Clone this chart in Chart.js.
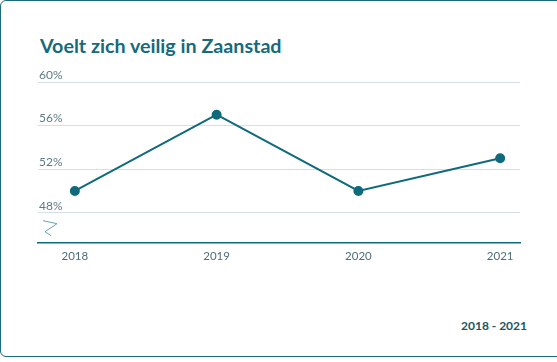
<!DOCTYPE html>
<html>
<head>
<meta charset="utf-8">
<script src="https://cdn.jsdelivr.net/npm/chart.js@4"></script>
<style>
  html, body { margin: 0; padding: 0; background: #fff; overflow: hidden; }
  .card {
    position: absolute; left: 0; top: 0; width: 580px; height: 355px;
    border: 1.5px solid #1b6b7d; border-radius: 6px; box-sizing: content-box;
  }
  h2 {
    position: absolute; left: 40px; top: 34px; margin: 0;
    font: bold 19.7px Lato, sans-serif; color: #17697c;
  }
  .period {
    position: absolute; left: 461px; top: 318px;
    font: bold 12px Lato, sans-serif; color: #1b5566;
  }
  canvas { position: absolute; left: 0; top: 0; }
</style>
</head>
<body>
<div class="card"></div>
<h2>Voelt zich veilig in Zaanstad</h2>
<div class="period">2018 - 2021</div>
<canvas id="veilig-chart" width="557" height="362"></canvas>
<script>
const years = [2018, 2019, 2020, 2021];
const veilig = [50, 57, 50, 53];
const yTicks = [48, 52, 56, 60];

const teal = '#0f6a7c';

// klein zigzag-teken voor de onderbroken y-as
const axisBreak = {
    id: 'axisBreak',
    afterDraw: function (chart) {
        let ctx = chart.ctx;
        let x = chart.chartArea.left;
        let y = chart.scales.y.getPixelForValue(48);
        ctx.save();
        ctx.strokeStyle = '#6aa3b0';
        ctx.lineWidth = 1;
        ctx.beginPath();
        ctx.moveTo(x + 5, y + 8);
        ctx.lineTo(x + 19, y + 11);
        ctx.lineTo(x + 7, y + 19);
        ctx.lineTo(x + 13, y + 23);
        ctx.stroke();
        ctx.restore();
    }
};

let veiligChartDraw = function () {
    let ctx = document.getElementById('veilig-chart').getContext('2d');

    window.veiligChart = new Chart(ctx, {
        type: 'line',
        data: {
            datasets: [{
                data: years.map((year, i) => ({ x: year, y: veilig[i] })),
                borderColor: teal,
                backgroundColor: teal,
                borderWidth: 2,
                pointRadius: 4,
                pointHoverRadius: 4,
                tension: 0
            }]
        },
        options: {
            responsive: false,
            animation: false,
            layout: {
                padding: { left: 36, right: 37, top: 82, bottom: 101 }
            },
            plugins: {
                legend: { display: false },
                tooltip: { enabled: false }
            },
            scales: {
                x: {
                    type: 'linear',
                    min: 2017.74,
                    max: 2021.14,
                    afterBuildTicks: function (scale) {
                        scale.ticks = years.map(v => ({ value: v }));
                    },
                    grid: { display: false },
                    border: { display: true, color: teal, width: 1.5 },
                    ticks: {
                        padding: -2,
                        color: '#4f6d78',
                        font: { family: 'Lato', size: 11.5 },
                        callback: v => String(v)
                    }
                },
                y: {
                    min: 45.2,
                    max: 60,
                    afterBuildTicks: function (scale) {
                        scale.ticks = yTicks.map(v => ({ value: v }));
                    },
                    grid: { color: '#d3e1e5', drawTicks: false, lineWidth: 1 },
                    border: { display: false },
                    ticks: {
                        mirror: true,
                        padding: 1,
                        labelOffset: -7,
                        color: '#5d7a84',
                        font: { family: 'Lato', size: 12 },
                        callback: v => v + '%'
                    }
                }
            }
        },
        plugins: [axisBreak]
    });
};

veiligChartDraw();
</script>
</body>
</html>
